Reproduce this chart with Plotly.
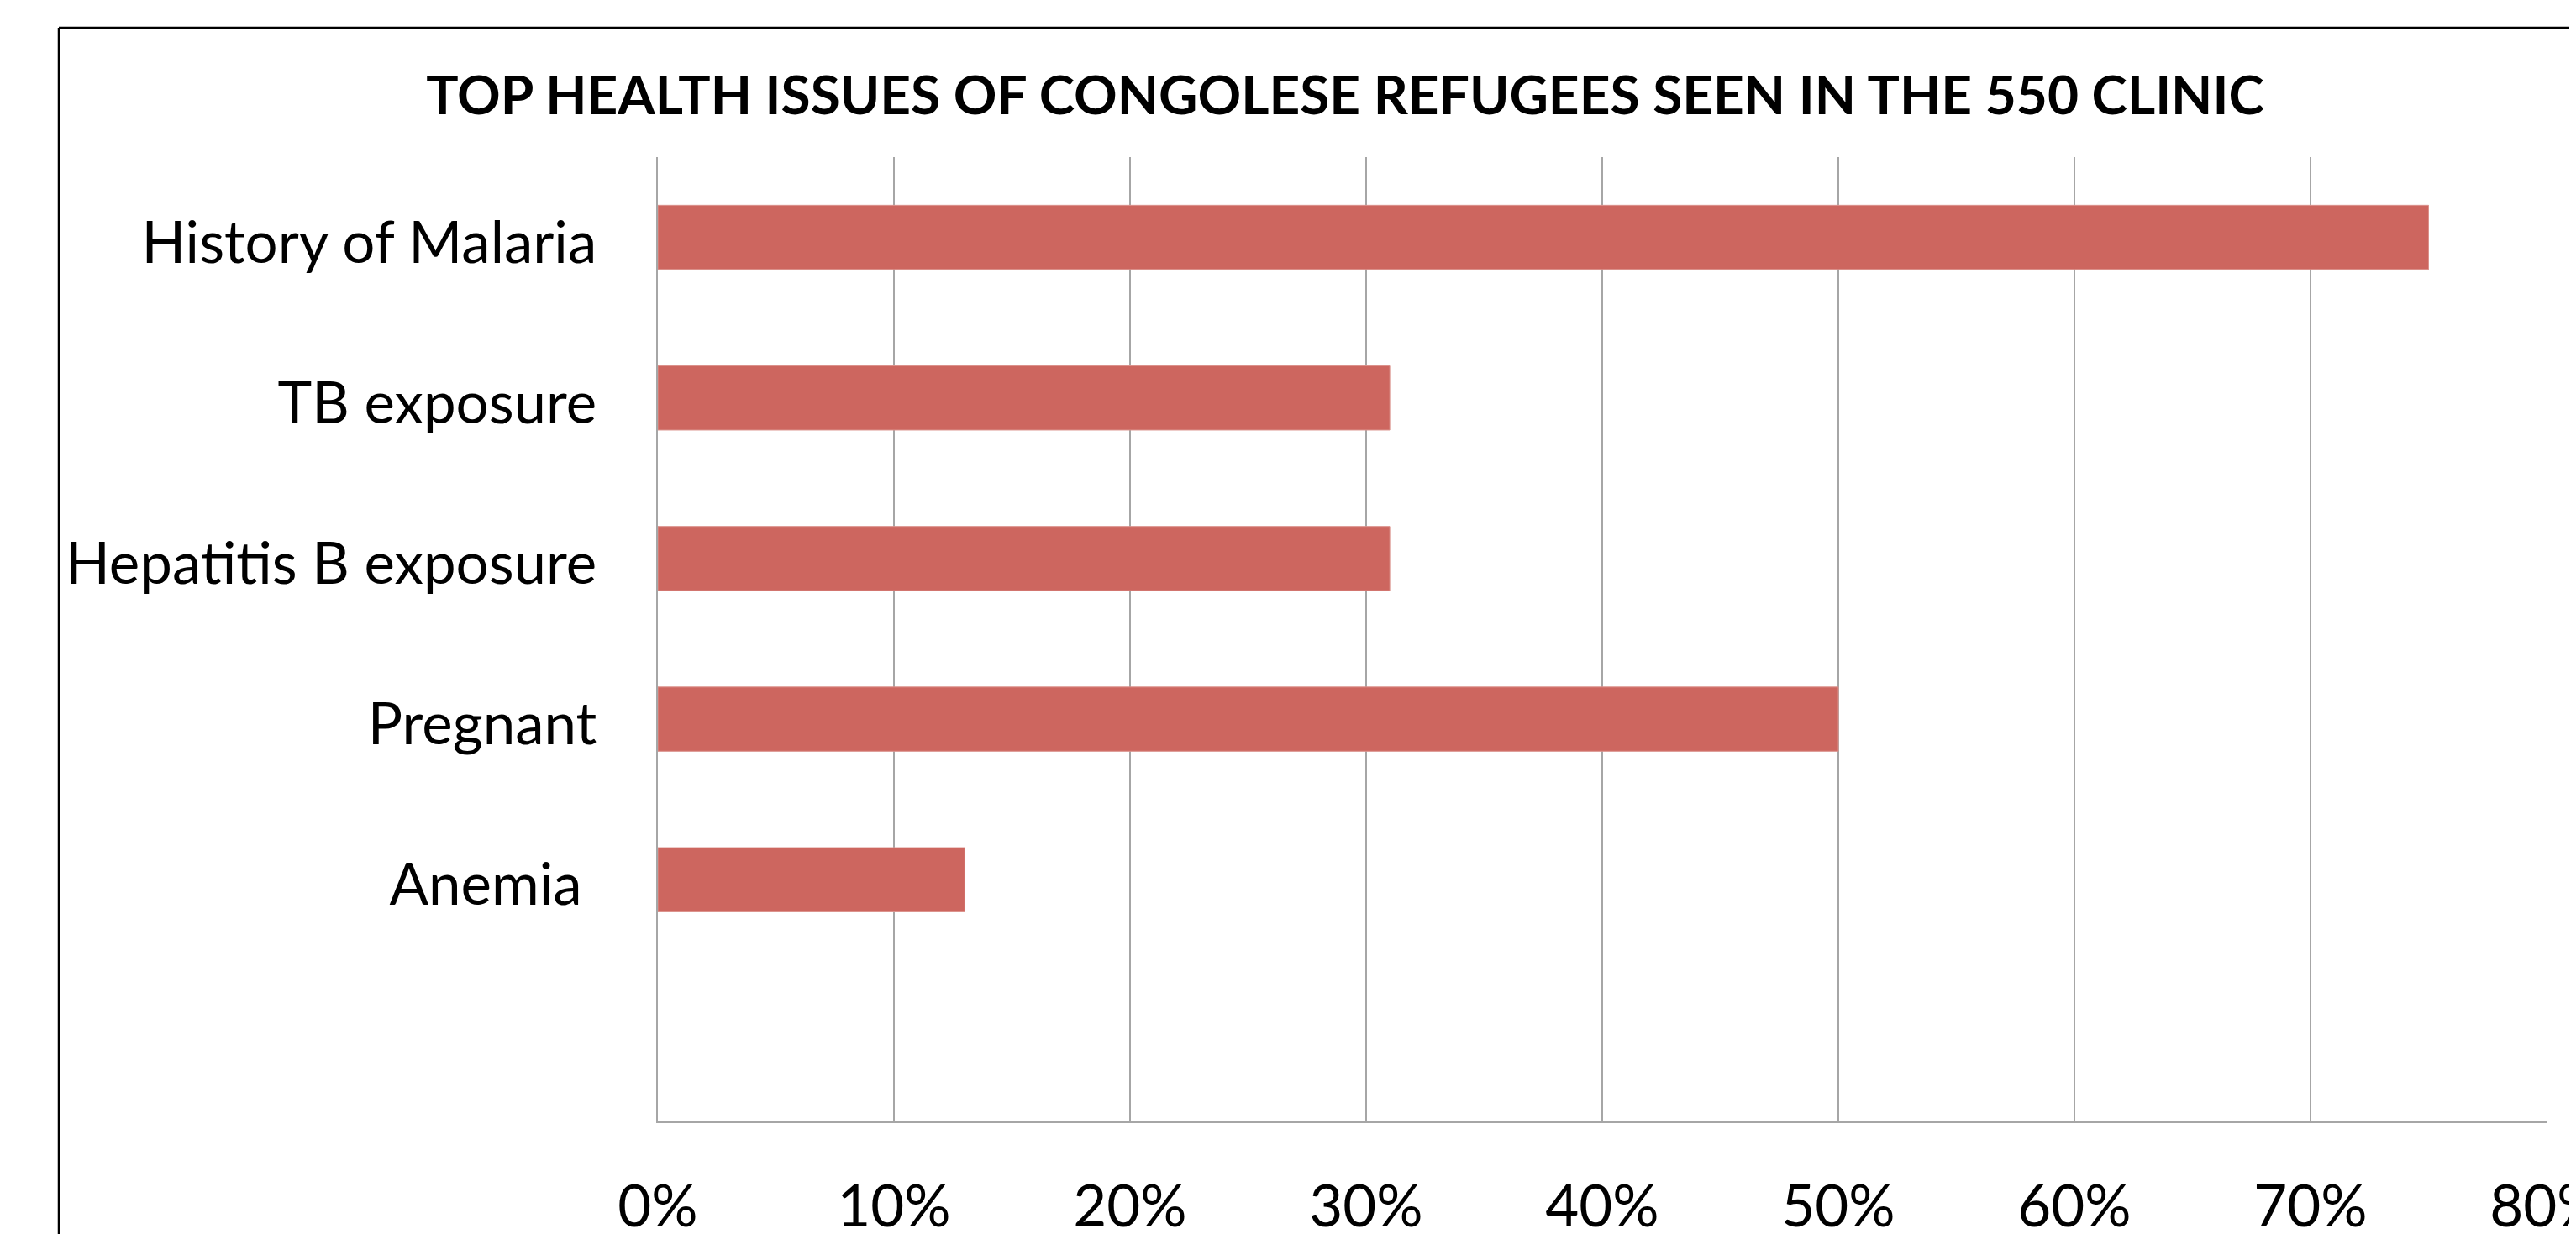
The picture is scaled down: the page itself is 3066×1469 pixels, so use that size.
import plotly.graph_objects as go

categories = ["Anemia\u00a0", "Pregnant", "Hepatitis B exposure", "TB exposure", "History of Malaria"]
values = [0.13, 0.50, 0.31, 0.31, 0.75]
tick_vals = [0, 0.1, 0.2, 0.3, 0.4, 0.5, 0.6, 0.7, 0.8]
tick_text = ["0%", "10%", "20%", "30%", "40%", "50%", "60%", "70%", "80%"]
title_text = "TOP HEALTH ISSUES OF CONGOLESE REFUGEES SEEN IN THE 550 CLINIC"

# page has an 8px body margin, so positions inside the figure are shifted by it
OFF = 8
W, H = 3066, 1469
L, T = 783 - OFF, 187 - OFF
R = W - (3031 - OFF)
B = H - (1334 - OFF)
pw = W - L - R
ph = H - T - B

fig = go.Figure(go.Bar(
    x=values,
    y=list(range(len(categories))),
    orientation="h",
    width=0.4,
    marker=dict(color="#CD665F", line=dict(color="#DB928C", width=1)),
    hoverinfo="skip",
))

box_x = (70 - 783) / pw
box_top = (1334 - 33) / ph

fig.update_layout(
    width=W, height=H,
    margin=dict(l=L, r=R, t=T, b=B, autoexpand=False),
    paper_bgcolor="white",
    plot_bgcolor="white",
    showlegend=False,
    font=dict(family="Lato", color="black"),
    title=dict(
        text="<b>" + title_text + "</b>",
        x=(1601 - OFF) / W, xanchor="center",
        y=1 - (114 - OFF) / H, yanchor="middle",
        font=dict(family="Lato", size=64, color="black"),
    ),
    xaxis=dict(
        range=[0, 0.8],
        tickvals=tick_vals,
        ticktext=tick_text,
        showgrid=True,
        gridcolor="#A6A6A6",
        gridwidth=2,
        zeroline=False,
        showline=True,
        linecolor="#A6A6A6",
        linewidth=3,
        ticks="",
        ticklabelstandoff=40,
        ticklabeloverflow="allow",
        automargin=False,
        tickfont=dict(family="Lato", size=69, color="black"),
    ),
    yaxis=dict(
        range=[-1.5, 4.5],
        tickvals=list(range(len(categories))),
        ticktext=categories,
        showgrid=False,
        zeroline=False,
        showline=True,
        linecolor="#A6A6A6",
        linewidth=2,
        ticks="",
        ticklabelstandoff=57,
        ticklabelshift=6,
        automargin=False,
        tickfont=dict(family="Lato", size=69, color="black"),
    ),
    shapes=[
        dict(type="line", xref="paper", yref="paper",
             x0=box_x, x1=box_x, y0=-0.3, y1=box_top,
             line=dict(color="black", width=2.5), layer="below"),
        dict(type="line", xref="paper", yref="paper",
             x0=box_x, x1=1.1, y0=box_top, y1=box_top,
             line=dict(color="black", width=2.5), layer="below"),
    ],
)

fig.write_html("out.html")
